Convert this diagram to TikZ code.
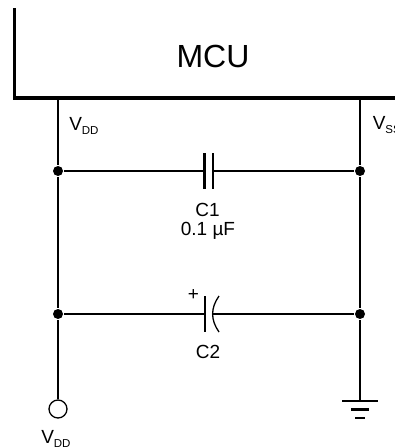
\documentclass[tikz,border=0pt]{standalone}
\usepackage{fontspec}
\setmainfont{Liberation Sans}
\usetikzlibrary{positioning}
\newcommand{\volt}[1]{V\raisebox{-4pt}{\fontsize{11.5}{12}\selectfont #1}}

\begin{document}
\begin{tikzpicture}[x=1pt, y=-1pt, semithick, line width=2.5pt,
    dot/.style = {circle, fill=black, inner sep=0pt, minimum size=10pt},
    term/.style = {circle, draw, line width=1.3pt, inner sep=0pt, minimum size=18pt},
    lbl/.style = {inner sep=0pt, font=\fontsize{19}{21}\selectfont},
    pin/.style = {lbl, anchor=base west},
    capt/.style = {lbl, anchor=base},
    plate/.style = {line width=2.5pt},
    gnd/.style = {line width=2.5pt}]
    \useasboundingbox (0,0) rectangle (394,447);
    \node[inner sep=0pt, anchor=base, font=\fontsize{32}{34}\selectfont]	(mcu) at (213,67) {MCU};
    \coordinate (boxtop) at (14.5,10);
    \coordinate (boxcorner) at (14.5,98);
    \coordinate (boxend) at (394,98);
    \coordinate (vddtop) at (58,98);
    \coordinate (vsstop) at (360,98);
    \node[dot]			(j1) at (58,171)	{};
    \node[dot]			(j2) at (58,314)	{};
    \node[dot]			(j3) at (360,171)	{};
    \node[dot]			(j4) at (360,314)	{};
    \node[term]			(vdd) at (58,409)	{};
    \coordinate (c1a) at (204.5,171);
    \coordinate (c1b) at (213,171);
    \coordinate (c2a) at (205,314);
    \coordinate (c2b) at (212.5,314);
    \coordinate (gnd1) at (360,401);
    \draw[line width=3.5pt, line cap=rect] (boxtop) -- (boxcorner) -- (boxend);
    \draw (vddtop) -- (j1);
    \draw (j1) -- (j2);
    \draw (j2) -- (vdd);
    \draw (vsstop) -- (j3);
    \draw (j3) -- (j4);
    \draw (j4) -- (gnd1);
    \draw (j1) -- (c1a);
    \draw (c1b) -- (j3);
    \draw (j2) -- (c2a);
    \draw (c2b) -- (j4);
    \draw[plate] (204.5,153) -- (204.5,189);
    \draw[plate] (213,153) -- (213,189);
    \draw[plate] (205,296) -- (205,332);
    \draw[line width=1.3pt] (219,296) .. controls (210.5,308) and (210.5,320) .. (219,332);
    \draw[gnd] (342,401) -- (378,401);
    \draw[gnd] (351,409.5) -- (369,409.5);
    \draw[gnd] (355,418) -- (365,418);
    \node[pin]			(vddin) at (68,130)		{\volt{DD}};
    \node[pin]			(vssin) at (371.5,129)	{\volt{SS}};
    \node[pin]			(vddout) at (40,443)	{\volt{DD}};
    \node[capt]			(c1) at (207.5,216.5)	{C1};
    \node[capt]			(c1val) at (208,235)	{0.1 µF};
    \node[lbl]			(plus) at (193.5,295.5)	{+};
    \node[capt]			(c2) at (208,358)		{C2};
\end{tikzpicture}
\end{document}
